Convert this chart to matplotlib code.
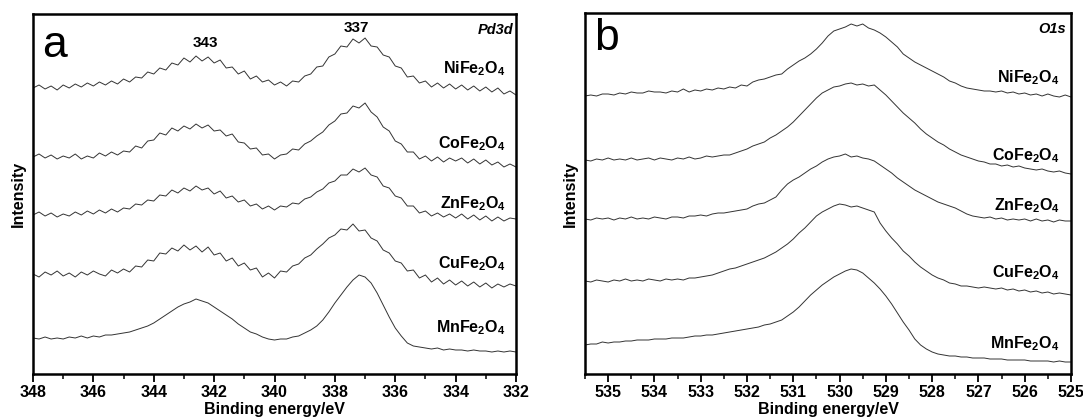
import numpy as np
import matplotlib
matplotlib.use("Agg")
import matplotlib.pyplot as plt
from matplotlib.ticker import MultipleLocator

plt.rcParams['font.family'] = ['Liberation Sans', 'DejaVu Sans']
plt.rcParams['mathtext.fontset'] = 'custom'
plt.rcParams['mathtext.rm'] = 'Liberation Sans'
plt.rcParams['mathtext.bf'] = 'Liberation Sans:bold'
plt.rcParams['mathtext.it'] = 'Liberation Sans:italic'

# ---------------- Panel a: Pd3d (binding energy 348 -> 332 eV, step 0.2) ----------------
pd_start, pd_end = 348.0, 332.0
pd_ni = [286, 289, 285, 288, 284, 289, 286, 290, 287, 291, 288,
         292, 289, 293, 290, 295, 292, 297, 296, 302, 300,
         306, 304, 311, 309, 316, 312, 318, 313, 317, 311,
         314, 306, 307, 300, 303, 295, 298, 292, 294, 289,
         292, 288, 293, 292, 298, 300, 307, 308, 317, 320,
         328, 327, 335, 331, 336, 328, 327, 319, 317, 308,
         306, 297, 298, 291, 293, 287, 291, 286, 290, 285,
         289, 284, 288, 283, 287, 282, 286, 280, 283, 279]
pd_co = [217, 220, 216, 219, 215, 218, 216, 220, 215, 218, 216,
         221, 218, 222, 219, 223, 222, 228, 226, 233, 234,
         241, 239, 246, 243, 248, 245, 250, 246, 249, 243,
         244, 238, 240, 232, 231, 225, 226, 219, 220, 215,
         219, 220, 225, 224, 230, 233, 238, 242, 249, 253,
         260, 261, 268, 266, 271, 262, 257, 247, 243, 233,
         230, 222, 222, 215, 218, 213, 217, 212, 216, 213,
         216, 211, 215, 210, 214, 209, 212, 207, 210, 207]
pd_zn = [159, 162, 158, 161, 157, 160, 158, 162, 159, 163, 160,
         164, 161, 165, 162, 166, 165, 170, 169, 174, 173,
         179, 178, 184, 181, 186, 183, 188, 184, 186, 180,
         183, 176, 178, 172, 174, 168, 170, 165, 168, 164,
         168, 167, 171, 170, 175, 177, 182, 185, 191, 193,
         199, 199, 205, 202, 206, 199, 197, 188, 186, 178,
         176, 168, 168, 161, 163, 158, 161, 157, 160, 156,
         160, 155, 159, 154, 158, 153, 157, 153, 156, 155]
pd_cu = [100, 97, 102, 99, 103, 98, 101, 97, 102, 99, 103,
         100, 98, 104, 101, 105, 102, 108, 107, 114, 113,
         121, 120, 126, 123, 129, 124, 128, 122, 127, 119,
         121, 113, 116, 108, 111, 104, 106, 97, 101, 96,
         103, 102, 108, 110, 116, 119, 125, 130, 136, 139,
         145, 144, 150, 143, 144, 136, 133, 124, 121, 113,
         111, 103, 104, 96, 99, 92, 96, 90, 94, 89,
         93, 88, 92, 87, 91, 86, 90, 87, 90, 88]
pd_mn = [36, 35, 37, 35, 36, 35, 37, 36, 38, 36, 38,
         37, 39, 39, 40, 41, 42, 44, 46, 48, 51,
         55, 59, 63, 67, 70, 72, 75, 73, 71, 67,
         63, 59, 55, 50, 46, 42, 40, 37, 35, 34,
         35, 35, 37, 38, 41, 44, 48, 54, 62, 71,
         79, 87, 94, 99, 97, 91, 81, 69, 57, 46,
         38, 31, 28, 27, 26, 25, 26, 24, 25, 24,
         24, 23, 24, 23, 23, 22, 23, 22, 23, 22]

# ---------------- Panel b: O1s (binding energy 535.5 -> 525 eV, step 0.125) ----------------
o_start, o_end = 535.5, 525.0
o_ni = [278, 279, 278, 280, 280, 279, 281, 280, 282, 281, 281, 283, 282, 282, 281, 283,
        282, 285, 282, 284, 283, 285, 284, 286, 285, 287, 286, 289, 288, 292, 294, 295,
        297, 299, 300, 305, 309, 313, 316, 320, 325, 331, 338, 343, 345, 347, 350, 348,
        350, 346, 344, 341, 337, 332, 327, 320, 316, 312, 309, 306, 303, 300, 297, 293,
        291, 288, 286, 285, 284, 283, 283, 282, 283, 281, 282, 280, 281, 279, 280, 278,
        280, 278, 277, 279, 277]
o_co = [214, 213, 215, 214, 216, 214, 215, 214, 216, 214, 215, 216, 214, 216, 215, 214,
        216, 215, 217, 215, 216, 218, 217, 218, 219, 219, 221, 223, 225, 228, 230, 232,
        236, 239, 243, 247, 252, 258, 264, 270, 276, 281, 284, 287, 288, 290, 291, 289,
        290, 288, 289, 284, 279, 273, 267, 261, 256, 251, 245, 240, 236, 232, 229, 225,
        222, 219, 217, 215, 213, 212, 210, 210, 208, 209, 207, 208, 206, 205, 204, 205,
        203, 202, 203, 201, 200]
o_zn = [155, 154, 156, 155, 156, 154, 156, 155, 157, 155, 156, 155, 157, 156, 155, 157,
        157, 156, 158, 158, 159, 158, 160, 161, 161, 162, 163, 164, 165, 168, 170, 171,
        174, 177, 184, 190, 194, 197, 201, 205, 208, 212, 215, 217, 218, 220, 217, 218,
        216, 215, 213, 209, 205, 201, 196, 192, 188, 184, 181, 178, 175, 172, 170, 168,
        166, 163, 160, 158, 157, 156, 157, 155, 156, 154, 155, 154, 155, 153, 155, 153,
        154, 152, 154, 153, 153]
o_cu = [93, 92, 94, 93, 92, 94, 93, 95, 93, 94, 93, 95, 94, 93, 95, 94,
        95, 94, 96, 96, 97, 98, 99, 101, 103, 105, 106, 108, 110, 112, 114, 116,
        119, 122, 126, 130, 135, 141, 146, 152, 158, 162, 165, 168, 170, 169, 167, 168,
        166, 164, 162, 151, 143, 136, 130, 123, 118, 112, 107, 103, 99, 96, 94, 91,
        90, 88, 88, 87, 86, 87, 86, 85, 86, 84, 85, 83, 84, 82, 83, 81,
        82, 80, 81, 80, 79]
o_mn = [29, 30, 30, 32, 31, 32, 32, 33, 33, 34, 34, 34, 35, 35, 35, 36,
        36, 36, 37, 38, 38, 39, 39, 40, 41, 42, 43, 44, 45, 46, 47, 49,
        50, 52, 54, 58, 62, 67, 73, 79, 84, 89, 93, 97, 100, 103, 105, 104,
        101, 96, 91, 85, 78, 70, 61, 52, 44, 35, 29, 25, 22, 20, 19, 18,
        18, 17, 17, 16, 16, 16, 15, 15, 15, 14, 14, 14, 14, 13, 13, 13,
        13, 12, 13, 12, 12]

sample_names = ["NiFe$_\\mathbf{2}$O$_\\mathbf{4}$", "CoFe$_\\mathbf{2}$O$_\\mathbf{4}$",
                "ZnFe$_\\mathbf{2}$O$_\\mathbf{4}$", "CuFe$_\\mathbf{2}$O$_\\mathbf{4}$",
                "MnFe$_\\mathbf{2}$O$_\\mathbf{4}$"]
pd_series = [pd_ni, pd_co, pd_zn, pd_cu, pd_mn]
o_series = [o_ni, o_co, o_zn, o_cu, o_mn]
pd_label_y = [305, 230, 170, 110, 46]
o_label_y = [296, 218, 168, 101, 30]
pd_peak_labels = ["343", "337"]
pd_peak_pos = [(342.3, 331), (337.3, 346)]

W, H = 1083, 419
fig = plt.figure(figsize=(W / 100, H / 100), dpi=100)
ax_a = fig.add_axes([33 / W, 1 - 374 / H, (516 - 33) / W, (374 - 14) / H])
ax_b = fig.add_axes([585 / W, 1 - 374 / H, (1071 - 585) / W, (374 - 13) / H])

line_kw = dict(color="#333333", lw=0.7)


def style(ax, xlim, ylim, major, minor):
    ax.set_xlim(*xlim)
    ax.set_ylim(*ylim)
    ax.xaxis.set_major_locator(MultipleLocator(major))
    ax.xaxis.set_minor_locator(MultipleLocator(minor))
    ax.set_yticks([])
    for s in ax.spines.values():
        s.set_linewidth(1.8)
    ax.tick_params(axis="x", which="major", direction="out", length=6, width=1.3, pad=2)
    ax.tick_params(axis="x", which="minor", direction="out", length=3.5, width=1.1)
    for lab in ax.get_xticklabels():
        lab.set_fontweight("bold")
        lab.set_fontsize(11.5)
    ax.set_xlabel("Binding energy/eV", fontsize=11.5, fontweight="bold", labelpad=1.5)
    ax.set_ylabel("Intensity", fontsize=11.5, fontweight="bold", labelpad=5)


# Panel a
for vals in pd_series:
    x = np.linspace(pd_start, pd_end, len(vals))
    ax_a.plot(x, vals, **line_kw)
style(ax_a, (348, 332), (0, 360), 2, 1)
for name, y in zip(sample_names, pd_label_y):
    ax_a.text(332.35, y, name, ha="right", va="center", fontsize=11.5, fontweight="bold")
for txt, (px, py) in zip(pd_peak_labels, pd_peak_pos):
    ax_a.text(px, py, txt, ha="center", va="center", fontsize=11, fontweight="bold")
ax_a.text(0.018, 0.97, "a", transform=ax_a.transAxes, ha="left", va="top", fontsize=32)
ax_a.text(0.995, 0.975, "Pd3d", transform=ax_a.transAxes, ha="right", va="top",
          fontsize=10.5, fontweight="bold", fontstyle="italic")

# Panel b
for vals in o_series:
    x = np.linspace(o_start, o_end, len(vals))
    ax_b.plot(x, vals, **line_kw)
style(ax_b, (535.5, 525), (0, 361), 1, 0.5)
for name, y in zip(sample_names, o_label_y):
    ax_b.text(525.25, y, name, ha="right", va="center", fontsize=11.5, fontweight="bold")
ax_b.text(0.018, 0.985, "b", transform=ax_b.transAxes, ha="left", va="top", fontsize=32)
ax_b.text(0.99, 0.975, "O1s", transform=ax_b.transAxes, ha="right", va="top",
          fontsize=10.5, fontweight="bold", fontstyle="italic")

fig.savefig("out.png", dpi=100)
